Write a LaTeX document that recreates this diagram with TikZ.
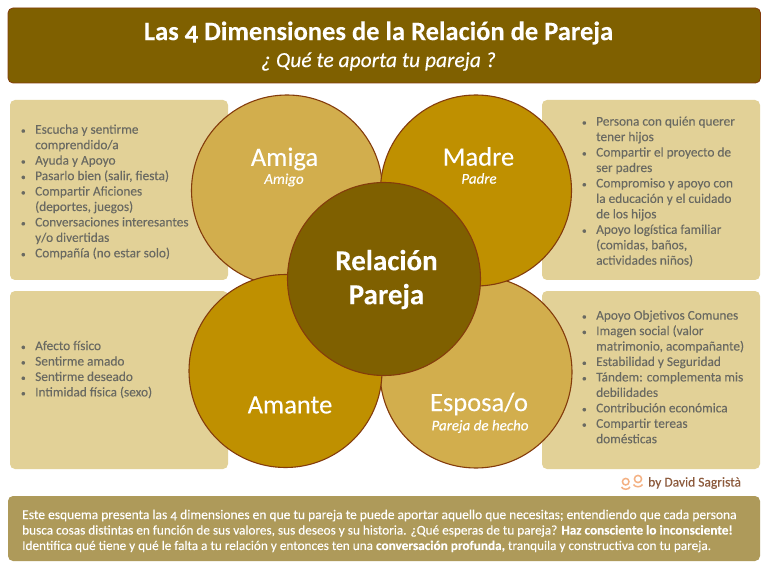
\documentclass[tikz,border=0pt]{standalone}
\usepackage{fontspec}
\setmainfont[Numbers=OldStyle,FakeBold=0.12]{Carlito}
\definecolor{hdr}{HTML}{7F6000}
\definecolor{edge}{HTML}{843C0C}
\definecolor{pale}{HTML}{E2D197}
\definecolor{gold}{HTML}{BF9000}
\definecolor{sand}{HTML}{D2AE4D}
\definecolor{foot}{HTML}{AE9A5A}
\definecolor{txt}{HTML}{6A6A62}
\definecolor{sign}{HTML}{8C5A3C}
\definecolor{peach}{HTML}{F4B183}
\newcommand{\fs}[2]{\fontsize{#1}{#2}\selectfont}
\newcommand{\itm}{\makebox[0pt][r]{{\fontsize{9.5}{10}\selectfont\textbullet}\hspace{9.5pt}}}
\tikzset{
  x=1pt,y=-1pt,
  panel/.style={fill=pale,rounded corners=5pt},
  circ/.style={draw=edge,line width=1.1pt,circle,inner sep=0pt},
  lbl/.style={text=white,align=center,inner sep=0pt},
  big/.style={lbl,font=\fs{26.5}{28}},
  sub/.style={lbl,font=\fs{15}{16}\itshape},
  list/.style={text=txt,align=left,inner sep=0pt,anchor=north west,font=\fs{13.3}{15.45}},
}
\begin{document}
\begin{tikzpicture}
\useasboundingbox (0,0) rectangle (768,569);
\fill[white] (0,0) rectangle (768,569);
\draw[fill=hdr,draw=edge,line width=.8pt,rounded corners=5pt] (8,8) rectangle (760.5,83);
\node[lbl,font=\fs{26.5}{30}\bfseries] (title) at (378.5,33) {Las 4 Dimensiones de la Relación de Pareja};
\node[lbl,font=\fs{21.5}{24}\itshape] (subtitle) at (378.5,61.5) {¿ Qué te aporta tu pareja ?};
\fill[panel] (10,100) rectangle (228,280);
\fill[panel] (542,100) rectangle (760,280);
\fill[panel] (10,291) rectangle (228,469);
\fill[panel] (542,291) rectangle (760,469);
\node[circ,fill=sand,minimum size=191pt] (amiga) at (287,190.5) {};
\node[circ,fill=sand,minimum size=192pt] (esposa) at (476,372) {};
\node[circ,fill=gold,minimum size=191pt] (madre) at (476,190.5) {};
\node[circ,fill=gold,minimum size=193pt] (amante) at (285.5,371) {};
\node[circ,fill=hdr,minimum size=193pt] (centre) at (384,279) {};
\node[big] at (284.5,159) {Amiga};
\node[sub] at (284,180) {Amigo};
\node[big] at (478.5,156.5) {Madre};
\node[sub] at (479,178.5) {Padre};
\node[big] at (290,405) {Amante};
\node[big] at (479,404) {Esposa/o};
\node[sub] at (480,426.5) {Pareja de hecho};
\node[lbl,font=\fs{29}{34}\bfseries] at (386.5,279.5) {Relación\\Pareja};
\node[list] (l1) at (35,124.3) {\itm Escucha y sentirme\\comprendido/a\\\itm Ayuda y Apoyo\\\itm Pasarlo bien (salir, fiesta)\\\itm Compartir Aficiones\\(deportes, juegos)\\\itm Conversaciones interesantes\\y/o divertidas\\\itm Compañía (no estar solo)};
\node[list] (l2) at (596,116.3) {\itm Persona con quién querer\\tener hijos\\\itm Compartir el proyecto de\\ser padres\\\itm Compromiso y apoyo con\\la educación y el cuidado\\de los hijos\\\itm Apoyo logística familiar\\(comidas, baños,\\actividades niños)};
\node[list] (l3) at (35,340.7) {\itm Afecto físico\\\itm Sentirme amado\\\itm Sentirme deseado\\\itm Intimidad física (sexo)};
\node[list] (l4) at (596,310.2) {\itm Apoyo Objetivos Comunes\\\itm Imagen social (valor\\matrimonio, acompañante)\\\itm Estabilidad y Seguridad\\\itm Tándem: complementa mis\\debilidades\\\itm Contribución económica\\\itm Compartir tereas\\domésticas};
\draw[peach,line width=1.5pt] (625.7,481.7) circle (3.3pt) (621.5,487) .. controls (623,490) and (628.5,490) .. (630,487);
\draw[peach,line width=1.5pt] (638,479) circle (3.6pt) (633.5,484.5) .. controls (635,487.5) and (641,487.5) .. (642.5,484.5);
\node[text=sign,inner sep=0pt,anchor=west,font=\fs{13.5}{15}] (by) at (648,483) {by David Sagristà};
\fill[foot,rounded corners=5pt] (8,496) rectangle (760,561);
\node[text=white,inner sep=0pt,anchor=north west,align=left,font=\fs{13.25}{15.45}] (foot) at (22,509.5) {{\fontsize{13.5}{15.45}\selectfont Este esquema presenta las 4 dimensiones en que tu pareja te puede aportar aquello que necesitas; entendiendo que cada persona}\\busca cosas distintas en función de sus valores, sus deseos y su historia. ¿Qué esperas de tu pareja? \textbf{Haz consciente lo inconsciente!}\\Identifica qué tiene y qué le falta a tu relación y entonces ten una \textbf{conversación profunda,} tranquila y constructiva con tu pareja.};
\end{tikzpicture}
\end{document}
